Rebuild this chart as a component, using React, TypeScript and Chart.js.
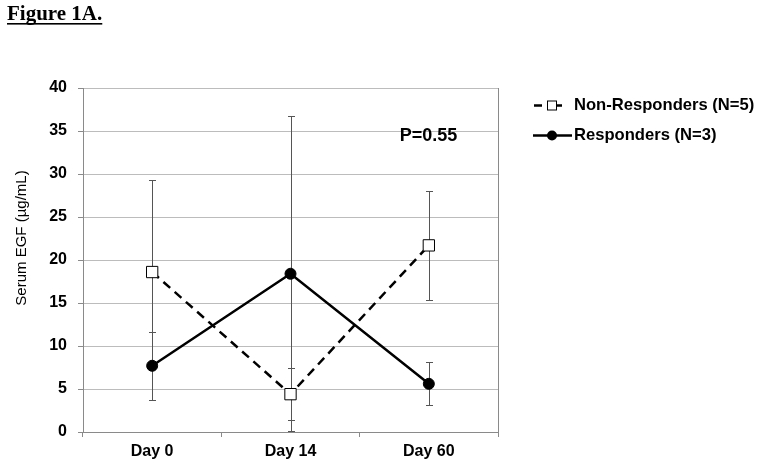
import React, { useEffect, useRef } from "react";
import { Chart, registerables } from "chart.js";

Chart.register(...registerables);

const categories = ["Day 0", "Day 14", "Day 60"];
const nonResponders = [18.6, 4.4, 21.7];
const nonRespErr = [10.7, 3.0, 6.3];
const responders = [7.7, 18.4, 5.6];
const respErr = [3.95, 18.3, 2.5];
const yTicks = [0, 5, 10, 15, 20, 25, 30, 35, 40];
const legendLabels = ["Non-Responders (N=5)", "Responders (N=3)"];
const figureTitle = "Figure 1A.";
const yTitle = "Serum EGF (\u00b5g/mL)";
const pText = "P=0.55";

const SANS = "'Liberation Sans', Arial, sans-serif";
const SERIF = "'Liberation Serif', 'Times New Roman', serif";

const errors = [nonRespErr, respErr];

const errorBarPlugin = {
  id: "errorBars",
  beforeDatasetsDraw(chart: any) {
    const ctx = chart.ctx;
    const y = chart.scales.y;
    ctx.save();
    ctx.strokeStyle = "#555";
    ctx.lineWidth = 1;
    chart.data.datasets.forEach((ds: any, i: number) => {
      const meta = chart.getDatasetMeta(i);
      meta.data.forEach((el: any, j: number) => {
        const v = ds.data[j];
        const e = errors[i][j];
        const yt = Math.round(y.getPixelForValue(v + e)) + 0.5;
        const yb = Math.round(y.getPixelForValue(Math.max(0, v - e))) + 0.5;
        const x = Math.round(el.x) + 0.5;
        ctx.beginPath();
        ctx.moveTo(x, yt);
        ctx.lineTo(x, yb);
        ctx.moveTo(x - 3.5, yt);
        ctx.lineTo(x + 3.5, yt);
        ctx.moveTo(x - 3.5, yb);
        ctx.lineTo(x + 3.5, yb);
        ctx.stroke();
      });
    });
    ctx.restore();
  },
  afterDraw(chart: any) {
    const ctx = chart.ctx;
    const area = chart.chartArea;
    ctx.save();
    // right border of plot area
    ctx.strokeStyle = "#8a8a8a";
    ctx.lineWidth = 1;
    ctx.beginPath();
    ctx.moveTo(Math.round(area.right) + 0.5, area.top);
    ctx.lineTo(Math.round(area.right) + 0.5, area.bottom);
    ctx.stroke();

    // Figure title
    ctx.fillStyle = "#000";
    ctx.font = `bold 21px ${SERIF}`;
    ctx.textBaseline = "alphabetic";
    ctx.textAlign = "left";
    ctx.fillText(figureTitle, 7, 20);
    const tw = ctx.measureText(figureTitle).width;
    ctx.fillRect(7, 23, tw, 1.6);

    // y title
    ctx.save();
    ctx.translate(22, 238);
    ctx.rotate(-Math.PI / 2);
    ctx.font = `15px ${SANS}`;
    ctx.textAlign = "center";
    ctx.textBaseline = "middle";
    ctx.fillText(yTitle, 0, 0);
    ctx.restore();

    // P value
    ctx.font = `bold 18px ${SANS}`;
    ctx.textAlign = "center";
    ctx.textBaseline = "middle";
    ctx.fillText(pText, 428.5, 136);

    // Legend
    ctx.strokeStyle = "#000";
    ctx.lineWidth = 2.5;
    const r1 = 105.5;
    ctx.beginPath();
    ctx.moveTo(534, r1);
    ctx.lineTo(542, r1);
    ctx.moveTo(557, r1);
    ctx.lineTo(562, r1);
    ctx.stroke();
    ctx.lineWidth = 1;
    ctx.fillStyle = "#fff";
    ctx.fillRect(547, r1 - 4.5, 9, 9);
    ctx.strokeRect(547.5, r1 - 4.5, 9, 9);

    const r2 = 135.5;
    ctx.lineWidth = 2.5;
    ctx.beginPath();
    ctx.moveTo(533, r2);
    ctx.lineTo(572, r2);
    ctx.stroke();
    ctx.fillStyle = "#000";
    ctx.beginPath();
    ctx.arc(552, r2, 5, 0, Math.PI * 2);
    ctx.fill();

    ctx.font = `bold 16.6px ${SANS}`;
    ctx.textAlign = "left";
    ctx.textBaseline = "middle";
    ctx.fillText(legendLabels[0], 574, r1);
    ctx.fillText(legendLabels[1], 574, r2);
    ctx.restore();
  },
};

export default function App() {
  const ref = useRef<HTMLCanvasElement>(null);
  useEffect(() => {
    if (!ref.current) return;
    const chart = new Chart(ref.current, {
      type: "line",
      data: {
        labels: categories,
        datasets: [
          {
            label: legendLabels[0],
            data: nonResponders,
            borderColor: "#000",
            borderWidth: 2.5,
            borderDash: [9, 6],
            pointStyle: "rect",
            pointRadius: 8,
            pointBackgroundColor: "#fff",
            pointBorderColor: "#000",
            pointBorderWidth: 1,
            fill: false,
            tension: 0,
          },
          {
            label: legendLabels[1],
            data: responders,
            borderColor: "#000",
            borderWidth: 2.5,
            pointStyle: "circle",
            pointRadius: 5.5,
            pointBackgroundColor: "#000",
            pointBorderColor: "#000",
            pointBorderWidth: 1,
            fill: false,
            tension: 0,
          },
        ],
      },
      options: {
        animation: false,
        responsive: false,
        maintainAspectRatio: false,
        devicePixelRatio: 1,
        layout: { padding: { top: 88, right: 264, left: 0, bottom: 0 } },
        plugins: {
          legend: { display: false },
          tooltip: { enabled: false },
          title: { display: false },
        },
        scales: {
          x: {
            type: "category",
            offset: true,
            grid: {
              display: true,
              offset: true,
              drawOnChartArea: false,
              drawTicks: true,
              tickLength: 5,
              color: "#8a8a8a",
            },
            border: { display: true, color: "#8a8a8a", width: 1 },
            ticks: {
              color: "#000",
              font: { family: SANS, size: 16, weight: "bold" },
              padding: 5,
              maxRotation: 0,
            },
            afterFit: (s: any) => {
              s.height = 36;
            },
          },
          y: {
            min: 0,
            max: 40,
            afterBuildTicks: (s: any) => {
              s.ticks = yTicks.map((v) => ({ value: v }));
            },
            grid: {
              color: "#bcbcbc",
              drawTicks: true,
              tickLength: 5,
              tickColor: "#8a8a8a",
            },
            border: { display: true, color: "#8a8a8a", width: 1 },
            ticks: {
              color: "#000",
              font: { family: SANS, size: 16, weight: "bold" },
              padding: 11,
            },
            afterFit: (s: any) => {
              s.width = 83;
            },
          },
        },
      },
      plugins: [errorBarPlugin],
    } as any);
    return () => chart.destroy();
  }, []);
  return (
    <div style={{ position: "fixed", left: 0, top: 0, width: 762, height: 468, background: "#fff" }}>
      <canvas ref={ref} width={762} height={468} style={{ width: 762, height: 468, display: "block" }} />
    </div>
  );
}
